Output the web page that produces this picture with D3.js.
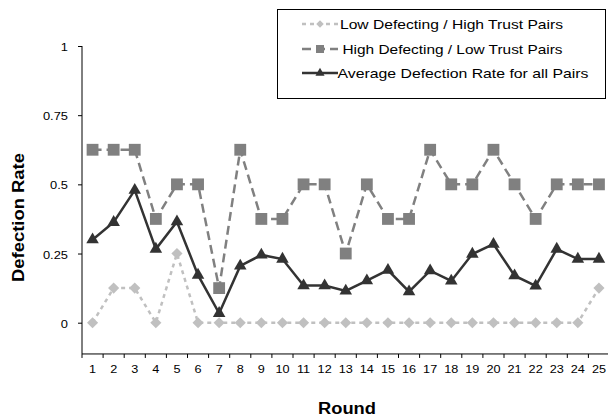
<!DOCTYPE html>
<html>
<head>
<meta charset="utf-8">
<script src="https://cdn.jsdelivr.net/npm/d3@7"></script>
<style>
  body { margin: 0; background: #fff; }
  svg { font-family: "Liberation Sans", Arial, sans-serif; }
</style>
</head>
<body>
<script>
// Data
const rounds = d3.range(1, 26).map(String);
const lowDefecting = [0, 0.125, 0.125, 0, 0.25, 0, 0, 0, 0, 0, 0, 0, 0, 0, 0, 0, 0, 0, 0, 0, 0, 0, 0, 0, 0.125];
const highDefecting = [0.625, 0.625, 0.625, 0.375, 0.5, 0.5, 0.125, 0.625, 0.375, 0.375, 0.5, 0.5, 0.25, 0.5, 0.375, 0.375, 0.625, 0.5, 0.5, 0.625, 0.5, 0.375, 0.5, 0.5, 0.5];
const averageRate = [0.30, 0.363, 0.479, 0.266, 0.365, 0.172, 0.034, 0.205, 0.245, 0.23, 0.134, 0.134, 0.115, 0.152, 0.19, 0.112, 0.188, 0.151, 0.248, 0.284, 0.17, 0.133, 0.266, 0.23, 0.23];
const yTicks = [0, 0.25, 0.5, 0.75, 1];
const seriesNames = ["Low Defecting / High Trust Pairs", "High Defecting / Low Trust Pairs", "Average Defection Rate for all Pairs"];

const W = 608, H = 417;
const left = 82, plotW = 25 * 21.1;
const yTop = 46, yZero = 322.7, yMin = -0.113;

const svg = d3.select("body").append("svg")
  .attr("width", W).attr("height", H);

const x = d3.scaleBand().domain(rounds).range([left, left + plotW]);
const y = d3.scaleLinear().domain([0, 1]).range([yZero, yTop]);
const yBottom = y(yMin);

// the reference text looks a bit wider than the font, so stretch it sideways
function widen(sel, sx) {
  sel.each(function() {
    const w = this.getComputedTextLength();
    this.setAttribute("textLength", w * sx);
    this.setAttribute("lengthAdjust", "spacingAndGlyphs");
  });
}

const series = [
  { name: seriesNames[0], values: lowDefecting, color: "#c0c0c0", dash: "4,4", symbol: d3.symbolSquare, size: 62, lsize: 28, rot: 45, textW: 223, textX: 340 },
  { name: seriesNames[1], values: highDefecting, color: "#808080", dash: "9,5", symbol: d3.symbolSquare, size: 140, lsize: 64, rot: 0, textW: 220, textX: 342.5 },
  { name: seriesNames[2], values: averageRate, color: "#333333", dash: null, symbol: d3.symbolTriangle, size: 68, lsize: 36, rot: 0, textW: 251, textX: 337.5 }
];

// x axis
const xAxis = svg.append("g")
  .attr("transform", `translate(0, ${yBottom})`)
  .call(d3.axisBottom(x).tickSize(0).tickPadding(0));
xAxis.select(".domain").remove();
xAxis.selectAll("text")
  .attr("y", 373 - yBottom).attr("dy", null)
  .attr("font-size", 11).attr("fill", "#000")
  .attr("font-family", "Liberation Sans, Arial, sans-serif")
  .call(widen, 1.15);
svg.append("line")
  .attr("x1", left).attr("x2", W).attr("y1", yBottom).attr("y2", yBottom)
  .attr("stroke", "#000").attr("stroke-width", 1);
svg.selectAll(".xtick").data(d3.range(0, 26)).join("line")
  .attr("x1", d => left + d * x.step()).attr("x2", d => left + d * x.step())
  .attr("y1", yBottom).attr("y2", yBottom + 4)
  .attr("stroke", "#000");

// y axis
const yAxis = svg.append("g")
  .attr("transform", `translate(${left}, 0)`)
  .call(d3.axisLeft(y).tickValues(yTicks).tickSize(4).tickPadding(10).tickFormat(d => String(d)));
yAxis.select(".domain").remove();
yAxis.selectAll("text")
  .attr("dy", "0.42em")
  .attr("font-size", 11).attr("fill", "#000")
  .attr("font-family", "Liberation Sans, Arial, sans-serif")
  .call(widen, 1.17);
svg.append("line")
  .attr("x1", left).attr("x2", left).attr("y1", yTop).attr("y2", yBottom)
  .attr("stroke", "#000");

// axis titles
svg.append("text")
  .attr("transform", `translate(24.3, 217.5) rotate(-90)`)
  .attr("text-anchor", "middle")
  .attr("font-size", 16.5).attr("font-weight", "bold")
  .attr("textLength", 129).attr("lengthAdjust", "spacingAndGlyphs")
  .text("Defection Rate");
svg.append("text")
  .attr("x", 347).attr("y", 413.5)
  .attr("text-anchor", "middle")
  .attr("font-size", 16).attr("font-weight", "bold")
  .attr("textLength", 58).attr("lengthAdjust", "spacingAndGlyphs")
  .text("Round");

// lines and markers
const line = d3.line()
  .x((d, i) => x(rounds[i]) + x.bandwidth() / 2)
  .y(d => y(d));

series.forEach(s => {
  svg.append("path")
    .attr("d", line(s.values))
    .attr("fill", "none")
    .attr("stroke", s.color)
    .attr("stroke-width", 2.5)
    .attr("stroke-dasharray", s.dash);
  svg.append("g").selectAll("path").data(s.values).join("path")
    .attr("transform", (d, i) => `translate(${x(rounds[i]) + x.bandwidth() / 2}, ${y(d)}) rotate(${s.rot})`)
    .attr("d", d3.symbol().type(s.symbol).size(s.size))
    .attr("fill", s.color);
});

// legend
const legend = svg.append("g");
legend.append("rect")
  .attr("x", 277.5).attr("y", 9.5).attr("width", 328).attr("height", 89)
  .attr("fill", "#fff").attr("stroke", "#000");
const rows = [24, 49, 73];
series.forEach((s, i) => {
  const g = legend.append("g").attr("transform", `translate(0, ${rows[i]})`);
  g.append("line")
    .attr("x1", 302).attr("x2", 338)
    .attr("stroke", s.color).attr("stroke-width", 2.5)
    .attr("stroke-dasharray", s.dash);
  g.append("path")
    .attr("transform", `translate(320, 0) rotate(${s.rot})`)
    .attr("d", d3.symbol().type(s.symbol).size(s.lsize))
    .attr("fill", s.color);
  g.append("text")
    .attr("x", s.textX).attr("y", 0).attr("dy", "0.36em")
    .attr("font-size", 13)
    .attr("textLength", s.textW).attr("lengthAdjust", "spacingAndGlyphs")
    .text(s.name);
});
</script>
</body>
</html>
